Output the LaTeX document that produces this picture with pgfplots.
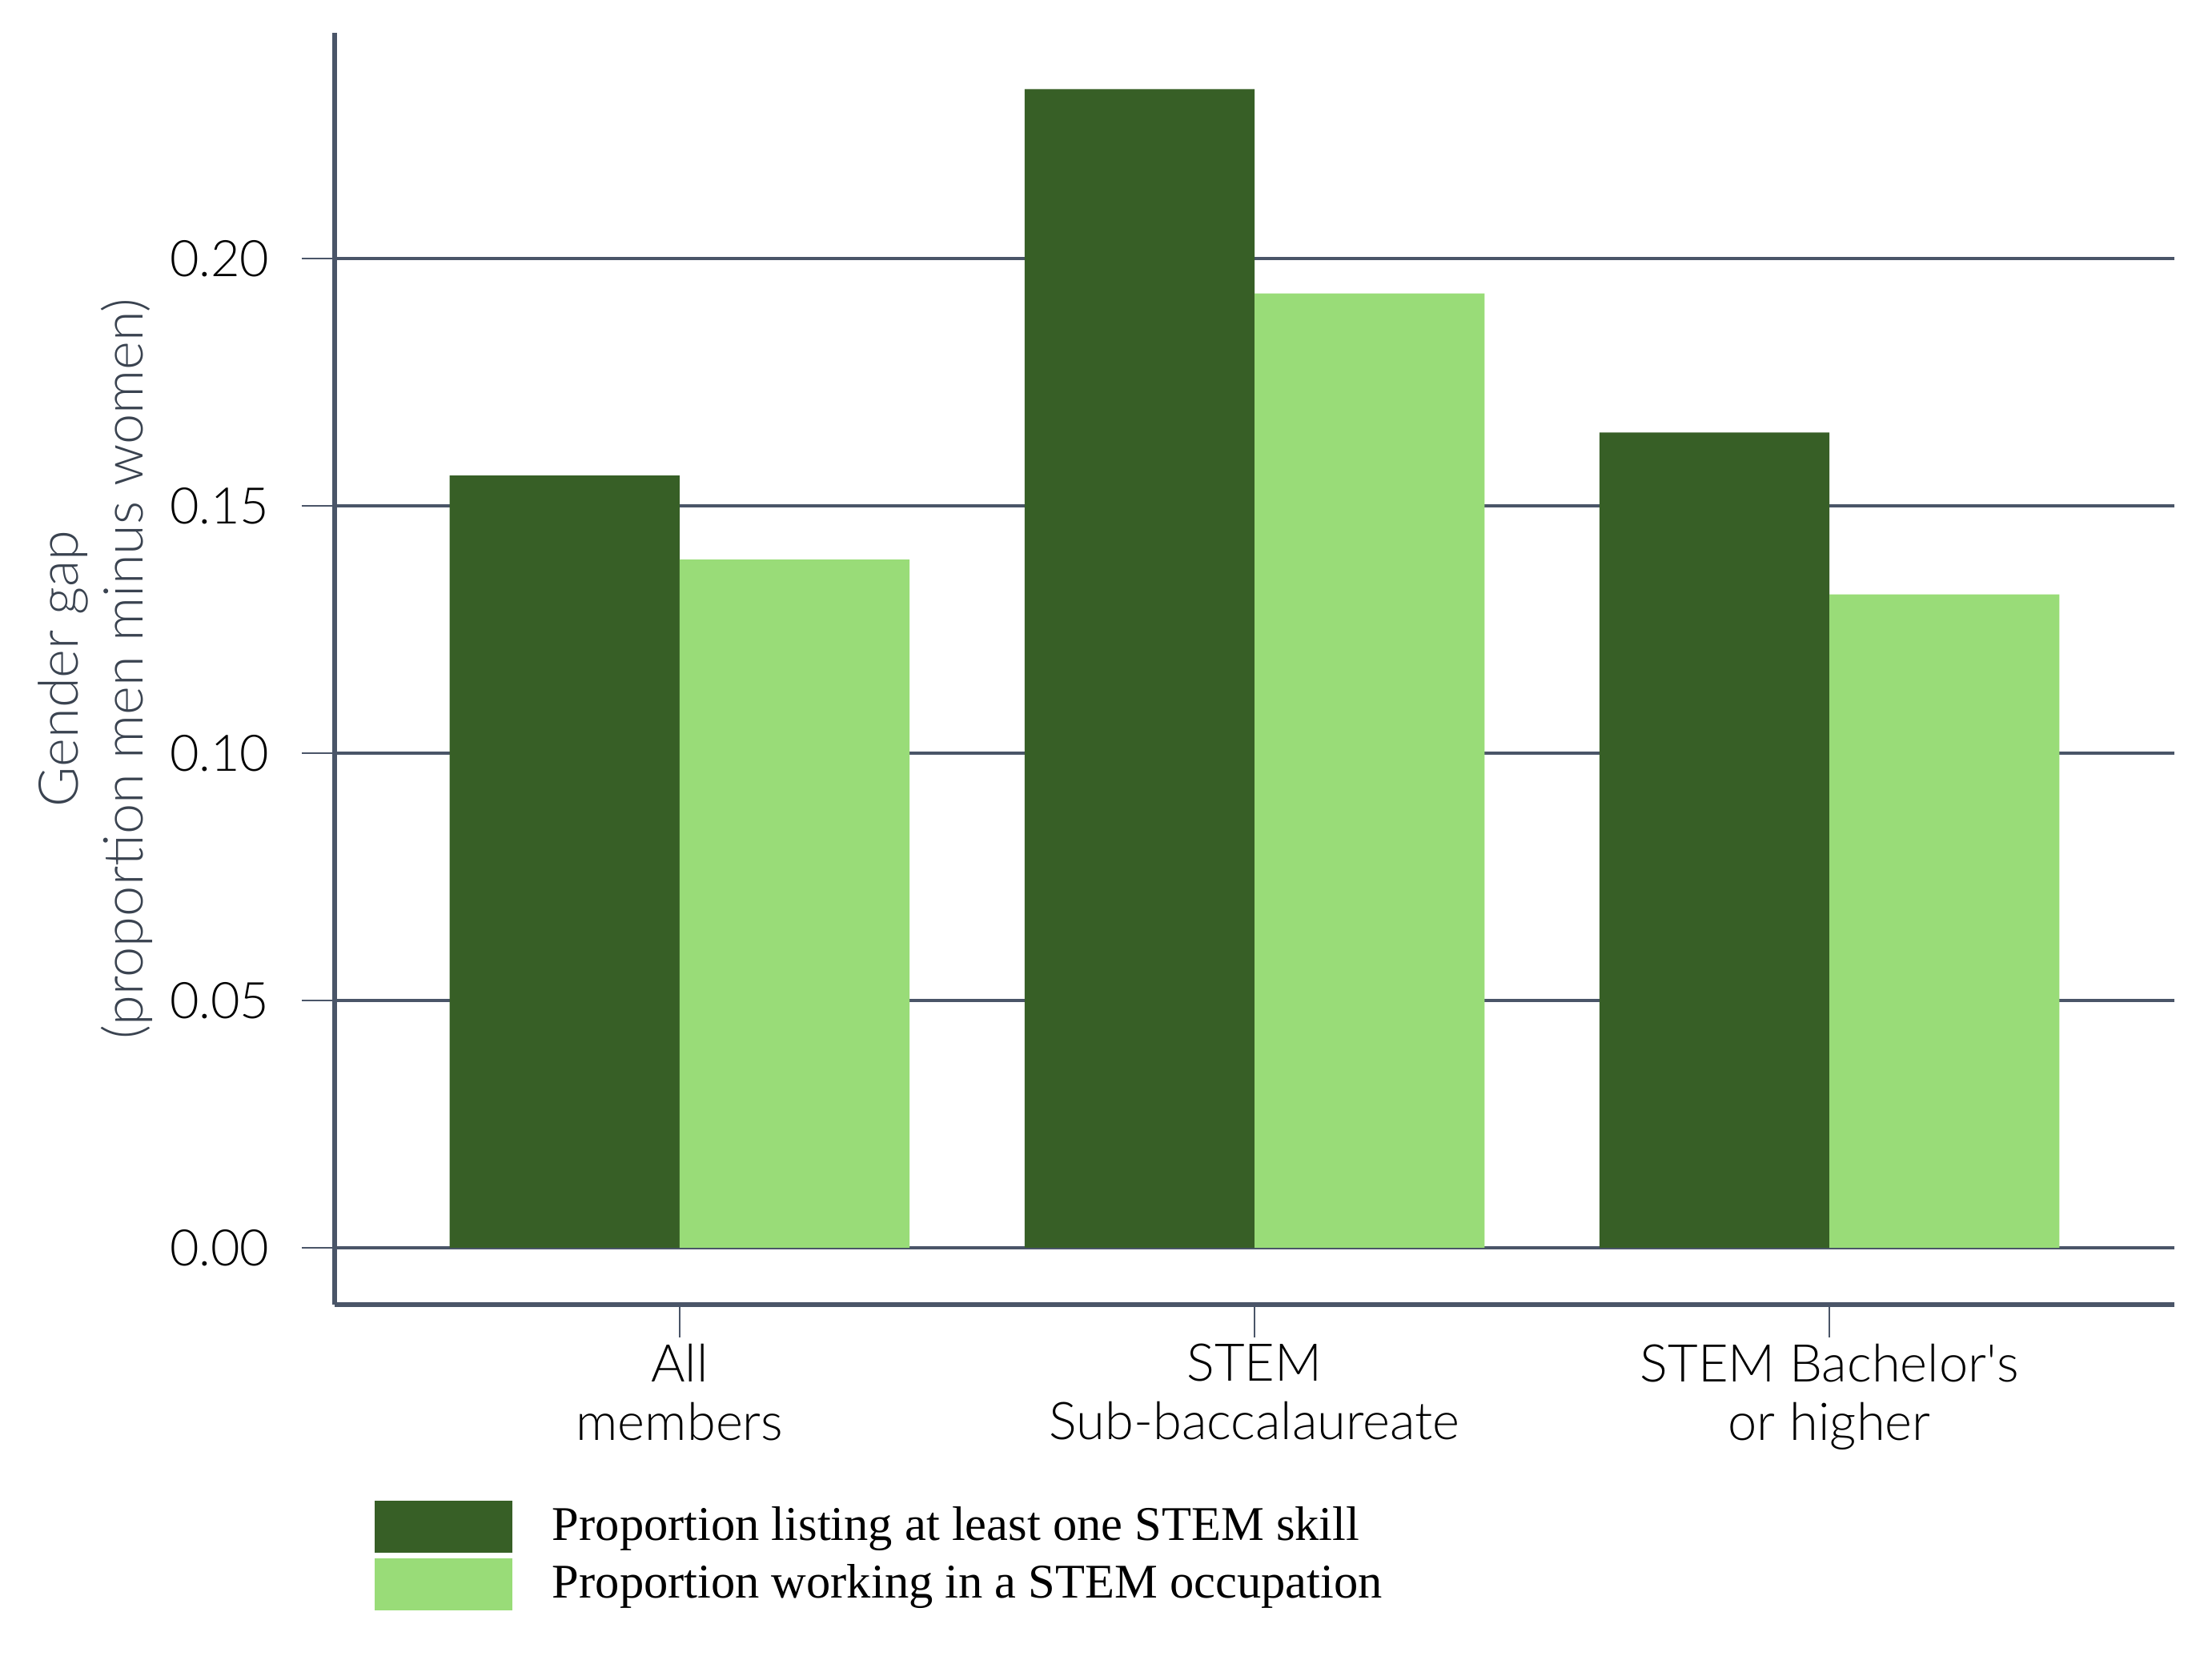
\documentclass[border=0pt]{standalone}
\usepackage{fontspec}
\setmainfont{Lato}[UprightFont={* Light}]
\newfontfamily\legendfont{Liberation Serif}
\usepackage{pgfplots}
\pgfplotsset{compat=1.18}
\definecolor{darkgreen}{HTML}{375F26}
\definecolor{lightgreen}{HTML}{99DC78}
\definecolor{gridc}{HTML}{4A5568}
\definecolor{labc}{HTML}{3A4350}
\begin{document}
\begin{tikzpicture}
\begin{axis}[
  scale only axis,
  width=459.6bp, height=317.8bp,
  xmin=-0.6, xmax=2.6,
  ymin=-0.01149, ymax=0.2456,
  axis x line*=bottom, axis y line*=left,
  axis line style={gridc, line width=1.1bp},
  xtick={0,1,2},
  xticklabels={{All\\members},{STEM\\Sub-baccalaureate},{STEM Bachelor\textquotesingle s\\or higher}},
  ytick={0,0.05,0.1,0.15,0.2},
  tick align=outside,
  major tick length=8.2bp,
  tick style={gridc, line width=0.45bp},
  ymajorgrids,
  major grid style={gridc, line width=0.85bp},
  /pgf/number format/.cd, fixed, fixed zerofill, precision=2, assume math mode=true,
  /pgfplots/.cd,
  yticklabel style={font=\fontsize{12.6bp}{15bp}\selectfont, text=black, anchor=east, inner sep=0pt, xshift=-7.9bp},
  xticklabel style={font=\fontsize{13bp}{14.6bp}\selectfont, text=black, align=center, anchor=north, inner sep=0pt, yshift=-1.4bp},
  ylabel={Gender gap\\(proportion men minus women)},
  ylabel style={at={(axis description cs:-0.0986,0.5)}, anchor=south, rotate=0, align=center, inner sep=0pt, text=labc, font=\fontsize{13.7bp}{16.2bp}\selectfont},
  ybar, bar width=0.4,
  legend style={at={(axis description cs:0,0)}, anchor=north west, xshift=10bp, yshift=-49bp,
    draw=none, fill=none, inner sep=0pt, outer sep=0pt, row sep=1.4bp,
    font=\legendfont\fontsize{12.1bp}{13bp}\selectfont,
    nodes={inner sep=0pt, text=black},
    /tikz/every odd column/.append style={column sep=10bp}},
  legend cell align=left,
  clip=false,
]
\coordinate (O) at (rel axis cs:0,0);
\addplot[fill=darkgreen, draw=none, bar shift=-0.2,
  legend image code/.code={\fill[darkgreen] (0bp,-6.5bp) rectangle (34.4bp,6.5bp);}]
  coordinates {(0,0.1561) (1,0.2342) (2,0.1648)};
\addplot[fill=lightgreen, draw=none, bar shift=0.2,
  legend image code/.code={\fill[lightgreen] (0bp,-6.5bp) rectangle (34.4bp,6.5bp);}]
  coordinates {(0,0.1391) (1,0.1929) (2,0.1321)};
\legend{Proportion listing at least one STEM skill, Proportion working in a STEM occupation}
\end{axis}
\pgfresetboundingbox
\path[use as bounding box] ([shift={(-83.6bp,-93.8bp)}]O) rectangle ([shift={(468bp,326bp)}]O);
\end{tikzpicture}
\end{document}
